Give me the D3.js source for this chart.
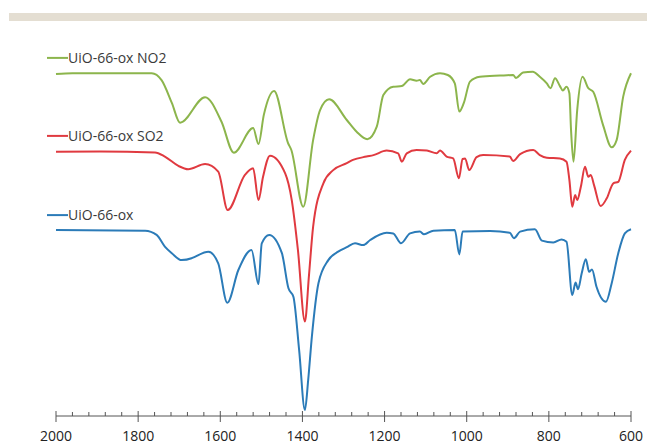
<!DOCTYPE html>
<html>
<head>
<meta charset="utf-8">
<script src="https://cdn.jsdelivr.net/npm/d3@7"></script>
<style>
  html, body { margin: 0; padding: 0; background: #fff; }
  svg { display: block; font-family: "Open Sans", sans-serif; }
</style>
</head>
<body>
<svg id="chart" width="647" height="447"></svg>
<script>
"use strict";

// wavenumber (cm-1) / transmittance (a.u., curves stacked)
var no2Wave = [2000, 1960, 1850, 1767, 1743, 1718, 1698, 1637, 1597, 1567, 1520, 1507, 1494, 1469, 1435, 1427, 1398, 1374, 1357, 1335, 1292, 1268, 1242, 1219, 1203, 1179, 1158, 1138, 1122, 1114, 1106, 1089, 1065, 1046, 1029, 1018, 1007, 992, 968, 919, 887, 880, 863, 839, 822, 805, 796, 785, 773, 766, 757, 750, 746, 740, 731, 718, 704, 692, 668, 647, 635, 619, 600];
var no2Vals = [115.3, 115.6, 115.6, 115.6, 113.3, 105.7, 99.1, 107.6, 99.4, 89.1, 97.3, 92.0, 101.7, 109.7, 92.3, 90.0, 71.1, 93.3, 103.3, 106.9, 100.0, 96.1, 93.6, 97.8, 108.3, 111.1, 111.3, 113.6, 113.1, 113.3, 112.0, 114.4, 115.6, 115.0, 112.2, 102.8, 105.7, 112.8, 114.4, 114.8, 115.0, 114.0, 115.8, 116.1, 114.4, 112.2, 110.6, 113.9, 111.3, 109.8, 111.1, 108.9, 96.7, 86.1, 103.3, 114.4, 110.6, 109.4, 98.3, 90.9, 93.3, 107.8, 115.6];

var so2Wave = [2000, 1893, 1759, 1735, 1702, 1678, 1637, 1605, 1582, 1540, 1520, 1507, 1496, 1479, 1442, 1426, 1411, 1394, 1384, 1374, 1349, 1325, 1292, 1277, 1244, 1227, 1195, 1167, 1158, 1146, 1122, 1097, 1073, 1065, 1049, 1033, 1019, 1010, 1004, 994, 976, 960, 895, 887, 870, 838, 822, 805, 773, 757, 750, 743, 736, 731, 722, 712, 704, 698, 690, 674, 659, 643, 631, 615, 600];
var so2Vals = [89.4, 89.5, 89.2, 87.8, 84.7, 83.6, 85.3, 82.8, 70.0, 81.7, 83.9, 73.3, 81.0, 88.1, 82.2, 73.3, 56.7, 32.8, 48.3, 64.4, 78.9, 83.3, 85.6, 86.7, 87.8, 88.3, 89.8, 88.9, 86.1, 88.9, 90.0, 89.8, 88.9, 89.8, 87.8, 87.2, 80.6, 87.0, 87.2, 83.3, 87.6, 88.3, 87.8, 86.3, 88.6, 90.0, 88.3, 87.4, 87.2, 86.1, 80.0, 71.1, 75.0, 73.3, 77.8, 84.4, 81.1, 81.7, 78.3, 71.3, 73.9, 78.9, 79.4, 86.7, 89.8];

var oxWave = [2000, 1783, 1755, 1735, 1718, 1694, 1670, 1662, 1629, 1605, 1583, 1556, 1524, 1507, 1499, 1481, 1450, 1434, 1422, 1408, 1394, 1386, 1377, 1361, 1337, 1313, 1292, 1272, 1252, 1235, 1195, 1179, 1160, 1138, 1114, 1104, 1081, 1029, 1018, 1010, 943, 895, 885, 870, 834, 817, 789, 769, 757, 743, 735, 729, 720, 710, 702, 695, 684, 661, 647, 631, 615, 600];
var oxVals = [63.3, 63.1, 61.7, 57.8, 55.6, 53.3, 53.9, 54.4, 56.1, 52.2, 39.1, 50.0, 56.7, 45.3, 58.9, 61.7, 55.6, 43.9, 41.1, 23.3, 3.3, 13.3, 27.8, 45.6, 53.3, 56.1, 57.6, 58.9, 58.3, 60.0, 62.4, 62.2, 58.9, 62.2, 62.8, 61.9, 63.1, 63.3, 55.2, 62.8, 63.0, 62.4, 60.6, 62.8, 63.6, 59.8, 59.2, 60.2, 59.4, 41.7, 45.8, 43.6, 48.9, 53.6, 49.4, 50.2, 44.4, 39.4, 45.6, 55.6, 62.2, 63.6];

var seriesNames = ["UiO-66-ox NO2", "UiO-66-ox SO2", "UiO-66-ox"];
var seriesColors = ["#8cb54c", "#e03a40", "#2b7bb8"];
var legendVals = [120.7, 94.7, 68.3];
var xTicks = [2000, 1800, 1600, 1400, 1200, 1000, 800, 600];

var svg = d3.select("#chart");

// thin band across the top of the page
svg.append("rect")
  .attr("x", 9)
  .attr("y", 13)
  .attr("width", 638)
  .attr("height", 8)
  .attr("fill", "#e4ded2");

var x = d3.scaleLinear().domain([2000, 600]).range([56, 631]);
var y = d3.scaleLinear().domain([0, 120]).range([420, 60]);

var lineGen = d3.line()
  .x(function (d) { return x(d[0]); })
  .y(function (d) { return y(d[1]); })
  .curve(d3.curveMonotoneX);

var data = [d3.zip(no2Wave, no2Vals), d3.zip(so2Wave, so2Vals), d3.zip(oxWave, oxVals)];

svg.append("g")
  .selectAll("path")
  .data(data)
  .enter()
  .append("path")
  .attr("fill", "none")
  .attr("stroke", function (d, i) { return seriesColors[i]; })
  .attr("stroke-width", 2)
  .attr("stroke-linejoin", "round")
  .attr("d", lineGen);

// Legend labels sit beside each curve
var legend = svg.append("g")
  .selectAll("g")
  .data(seriesNames)
  .enter()
  .append("g")
  .attr("transform", function (d, i) { return "translate(47," + y(legendVals[i]) + ")"; });

legend.append("line")
  .attr("x1", 0)
  .attr("x2", 21)
  .attr("stroke", function (d, i) { return seriesColors[i]; })
  .attr("stroke-width", 2);

legend.append("text")
  .attr("x", 21)
  .attr("dy", "0.36em")
  .attr("font-size", 14)
  .attr("fill", "#3a3a3a")
  .text(function (d) { return d; });

// Axis: major ticks cross the line, minor ticks sit above it
var axisY = 416;
var axis = svg.append("g").attr("transform", "translate(0," + axisY + ")");

axis.append("line")
  .attr("x1", x(2000))
  .attr("x2", x(600))
  .attr("stroke", "#555")
  .attr("stroke-width", 1);

axis.selectAll("line.minor")
  .data(d3.range(2000, 599, -40).filter(function (v) { return v % 200 !== 0; }))
  .enter()
  .append("line")
  .attr("class", "minor")
  .attr("x1", function (d) { return x(d); })
  .attr("x2", function (d) { return x(d); })
  .attr("y1", -4)
  .attr("y2", 0)
  .attr("stroke", "#555");

axis.selectAll("line.major")
  .data(xTicks)
  .enter()
  .append("line")
  .attr("class", "major")
  .attr("x1", function (d) { return x(d); })
  .attr("x2", function (d) { return x(d); })
  .attr("y1", -5)
  .attr("y2", 6)
  .attr("stroke", "#555");

axis.selectAll("text")
  .data(xTicks)
  .enter()
  .append("text")
  .attr("x", function (d) { return x(d); })
  .attr("y", 25)
  .attr("text-anchor", "middle")
  .attr("font-size", 14)
  .attr("fill", "#222")
  .text(function (d) { return d; });
</script>
</body>
</html>
